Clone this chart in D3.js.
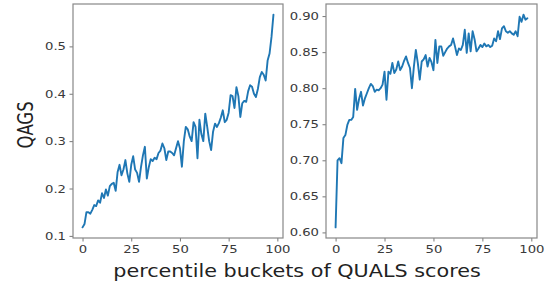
<!DOCTYPE html>
<html><head><meta charset="utf-8">
<script src="https://cdn.jsdelivr.net/npm/d3@7"></script>
<style>body{margin:0;background:#fff}svg{display:block}</style>
</head><body>
<svg id="c" width="548" height="286"></svg>
<script>
const buckets = d3.range(0, 99);
const qagsLeft = [0.118,0.125,0.150,0.150,0.147,0.155,0.165,0.163,0.175,0.170,
0.190,0.180,0.198,0.185,0.205,0.210,0.212,0.195,0.235,0.250,
0.228,0.240,0.260,0.232,0.214,0.250,0.268,0.240,0.233,0.214,
0.245,0.270,0.288,0.221,0.245,0.262,0.258,0.265,0.262,0.275,
0.280,0.295,0.285,0.260,0.278,0.278,0.275,0.270,0.285,0.300,
0.285,0.246,0.300,0.330,0.325,0.310,0.300,0.340,0.330,0.264,
0.345,0.315,0.300,0.358,0.330,0.300,0.281,0.320,0.337,0.330,
0.338,0.350,0.365,0.340,0.345,0.360,0.397,0.395,0.370,0.414,
0.395,0.351,0.380,0.385,0.383,0.405,0.418,0.415,0.400,0.393,
0.410,0.435,0.446,0.440,0.428,0.470,0.485,0.520,0.567];
const qagsRight = [0.607,0.700,0.703,0.696,0.731,0.735,0.749,0.756,0.756,0.760,
0.799,0.770,0.785,0.795,0.776,0.786,0.793,0.800,0.806,0.803,
0.795,0.798,0.797,0.800,0.805,0.823,0.784,0.823,0.820,0.835,
0.821,0.826,0.837,0.825,0.830,0.838,0.844,0.835,0.828,0.800,
0.830,0.853,0.835,0.812,0.837,0.840,0.846,0.830,0.842,0.836,
0.825,0.867,0.835,0.858,0.858,0.845,0.850,0.855,0.858,0.860,
0.869,0.858,0.846,0.855,0.853,0.860,0.881,0.849,0.876,0.851,
0.879,0.868,0.851,0.855,0.860,0.857,0.862,0.858,0.860,0.857,
0.859,0.869,0.865,0.879,0.868,0.883,0.886,0.879,0.877,0.879,
0.876,0.874,0.879,0.872,0.899,0.892,0.902,0.895,0.897];
const xTicks = [0, 25, 50, 75, 100];
const yTicksLeft = [0.1, 0.2, 0.3, 0.4, 0.5];
const yTicksRight = [0.60, 0.65, 0.70, 0.75, 0.80, 0.85, 0.90];
const xLabel = "percentile buckets of QUALS scores";
const yLabel = "QAGS";

const svg = d3.select("#c");
const panels = [
  {x0:73, x1:283, y0:4, y1:238, data:qagsLeft, ticks:yTicksLeft, fmt:d3.format(".1f")},
  {x0:326, x1:537, y0:4, y1:238, data:qagsRight, ticks:yTicksRight, fmt:d3.format(".2f")}
];
const sx = 1.2;
panels.forEach(p => {
  const xr = d3.extent(buckets), xm = (xr[1]-xr[0])*0.05;
  const yr = d3.extent(p.data), ym = (yr[1]-yr[0])*0.05;
  const x = d3.scaleLinear().domain([xr[0]-xm, xr[1]+xm]).range([p.x0, p.x1]);
  const y = d3.scaleLinear().domain([yr[0]-ym, yr[1]+ym]).range([p.y1, p.y0]);
  const g = svg.append("g");
  g.append("path").datum(buckets)
    .attr("fill","none").attr("stroke","#1f77b4").attr("stroke-width",1.9)
    .attr("stroke-linejoin","round").attr("stroke-linecap","round")
    .attr("d", d3.line().x(i=>x(i)).y(i=>y(p.data[i])));
  const xa = g.append("g").attr("transform",`translate(0,${p.y1})`)
    .call(d3.axisBottom(x).tickValues(xTicks).tickSize(3.5).tickPadding(3.5).tickFormat(d3.format("d")));
  const ya = g.append("g").attr("transform",`translate(${p.x0},0)`)
    .call(d3.axisLeft(y).tickValues(p.ticks).tickSize(3.5).tickPadding(3.5).tickFormat(p.fmt));
  [xa, ya].forEach(a => {
    a.select(".domain").remove();
    a.selectAll("line").attr("stroke","#555").attr("stroke-width",0.8);
    a.selectAll("text").attr("fill","#3a3a3a").style("font-family","DejaVu Sans").style("font-size","11px");
  });
  xa.selectAll("text").attr("transform",`scale(${sx},1)`);
  ya.selectAll("text").attr("x",-7/sx).attr("transform",`scale(${sx},1)`);
  g.append("rect").attr("x",p.x0).attr("y",p.y0).attr("width",p.x1-p.x0).attr("height",p.y1-p.y0)
    .attr("fill","none").attr("stroke","#888").attr("stroke-width",1.2);
});
svg.append("text").attr("transform","translate(297,277) scale(1.22,1)").attr("text-anchor","middle")
  .style("font-family","DejaVu Sans").style("font-size","17px").attr("fill","#222").text(xLabel);
svg.append("text").attr("transform","translate(33,125) rotate(-90) scale(1,1.25)")
  .attr("text-anchor","middle")
  .style("font-family","DejaVu Sans").style("font-size","16.5px").attr("fill","#222").text(yLabel);
</script>
</body></html>
